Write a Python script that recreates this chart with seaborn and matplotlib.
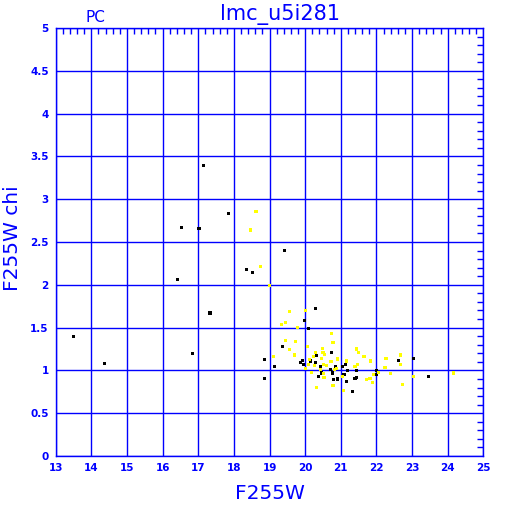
import matplotlib
matplotlib.use("Agg")
import matplotlib.pyplot as plt
from matplotlib.ticker import MultipleLocator, FormatStrFormatter
import seaborn as sns
import pandas as pd

# black points
xb = [17.14, 17.86, 16.52, 17.02, 18.36, 19.41, 16.42, 18.53, 13.51, 14.38,
      16.85, 17.33, 20.30, 19.97, 20.09, 19.36, 20.73, 20.32, 18.87, 19.93,
      19.88, 19.95, 20.16, 20.28, 20.43, 20.72, 18.87, 20.38, 20.76, 20.79,
      19.15, 21.14, 22.61, 21.04, 21.45, 21.20, 21.99, 22.01, 21.09, 21.45,
      21.40, 20.90, 21.17, 21.34, 23.03, 23.47, 20.85, 20.47, 20.91, 20.14]
yb = [3.39, 2.83, 2.67, 2.66, 2.18, 2.40, 2.06, 2.14, 1.40, 1.08,
      1.20, 1.67, 1.72, 1.58, 1.49, 1.28, 1.21, 1.17, 1.13, 1.12,
      1.09, 1.07, 1.10, 1.09, 1.05, 1.01, 0.91, 0.93, 0.97, 0.89,
      1.05, 1.07, 1.12, 1.05, 1.00, 1.00, 1.00, 0.95, 0.95, 0.92,
      0.91, 0.90, 0.87, 0.75, 1.14, 0.93, 1.04, 0.97, 0.89, 1.11]

# yellow points
xy = [18.62, 18.46, 18.75, 19.01, 20.00, 19.55, 19.45, 19.34, 19.79, 20.73,
      20.78, 19.44, 19.72, 20.06, 19.55, 20.48, 20.28, 19.70, 20.50, 19.10,
      20.23, 20.54, 20.11, 20.02, 20.09, 20.51, 20.61, 20.71, 20.42, 20.17,
      20.51, 20.78, 20.32, 21.45, 21.50, 20.90, 21.15, 21.16, 21.65, 21.84,
      22.27, 22.68, 22.68, 20.74, 21.47, 21.40, 20.87, 20.83, 22.05, 22.24,
      22.40, 21.05, 21.93, 21.73, 21.82, 21.88, 22.74, 21.07, 23.05, 24.17,
      20.47, 20.25, 20.53, 20.91]
yy = [2.86, 2.64, 2.21, 1.99, 1.70, 1.69, 1.56, 1.54, 1.50, 1.43,
      1.33, 1.35, 1.34, 1.28, 1.24, 1.26, 1.21, 1.18, 1.21, 1.16,
      1.16, 1.19, 1.13, 1.02, 1.07, 1.07, 1.06, 1.10, 1.01, 0.98,
      0.96, 0.82, 0.80, 1.25, 1.21, 1.14, 1.12, 1.10, 1.16, 1.11,
      1.14, 1.18, 1.07, 1.10, 1.07, 1.05, 1.02, 1.01, 0.98, 1.03,
      0.96, 0.93, 0.95, 0.89, 0.91, 0.86, 0.84, 0.77, 0.93, 0.97,
      1.14, 1.06, 0.92, 1.13]

df = pd.DataFrame({
    "F255W": xb + xy,
    "chi": yb + yy,
    "grp": ["black"] * len(xb) + ["yellow"] * len(xy),
})

sns.set_style("white")
blue = "#0000ff"

fig = plt.figure(figsize=(5.12, 5.12), dpi=100)
ax = fig.add_axes([0.1088, 0.1094, 0.8352, 0.8359])

sns.scatterplot(data=df, x="F255W", y="chi", hue="grp",
                palette={"black": "black", "yellow": "#ffff00"},
                marker="s", s=5, linewidth=0, legend=False, ax=ax,
                zorder=3, antialiased=False)

ax.set_xlim(13, 25)
ax.set_ylim(0, 5)
ax.xaxis.set_major_locator(MultipleLocator(1))
ax.xaxis.set_minor_locator(MultipleLocator(0.2))
ax.yaxis.set_major_locator(MultipleLocator(0.5))
ax.yaxis.set_minor_locator(MultipleLocator(0.1))
ax.yaxis.set_major_formatter(FormatStrFormatter("%g"))
ax.grid(True, which="major", color=blue, linewidth=1.0)
ax.set_axisbelow(True)

for sp in ax.spines.values():
    sp.set_color(blue)
    sp.set_linewidth(1.0)

ax.tick_params(which="both", direction="in", top=True, right=True,
               color=blue, labelcolor=blue)
ax.tick_params(which="major", length=0, pad=5)
ax.tick_params(which="minor", length=4, width=1.0)
for lab in ax.get_xticklabels() + ax.get_yticklabels():
    lab.set_fontweight("bold")
    lab.set_fontsize(7.5)

ax.set_xlabel("F255W", color=blue, fontsize=14.5, labelpad=8)
ax.set_ylabel("F255W chi", color=blue, fontsize=14.5)
ax.yaxis.set_label_coords(-0.078, 0.51)
ax.text(0.525, 1.008, "lmc_u5i281", transform=ax.transAxes, color=blue,
        fontsize=15, ha="center", va="bottom")
ax.text(0.092, 1.008, "PC", transform=ax.transAxes, color=blue,
        fontsize=11, ha="center", va="bottom")

fig.savefig("out.png", dpi=100, facecolor="white")
